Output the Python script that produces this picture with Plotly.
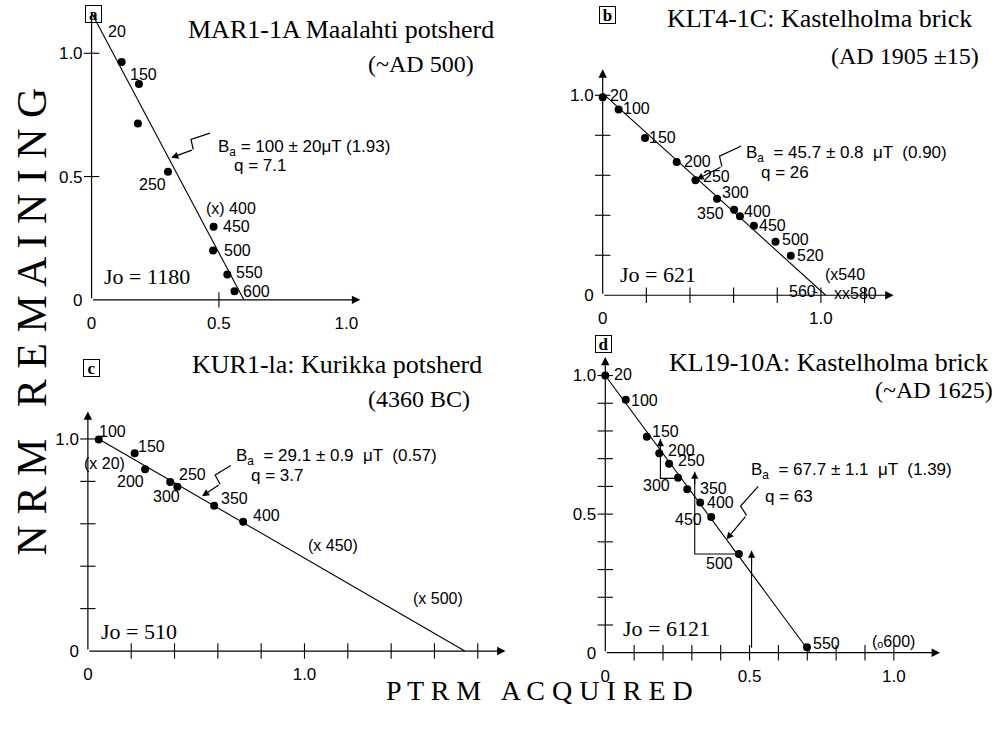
import plotly.graph_objects as go

W, H = 1000, 736
SANS = "Liberation Sans, Arial, Helvetica, sans-serif"
SERIF = "Liberation Serif, Times New Roman, serif"

# ---------------- data ----------------
# (a) MAR1-1A Maalahti potsherd
a_ptrm = [0.118, 0.186, 0.182, 0.300, 0.479, 0.477, 0.533, 0.561]
a_nrm = [0.965, 0.875, 0.715, 0.520, 0.296, 0.200, 0.103, 0.035]
a_temp = ["20", "150", "", "250", "450", "500", "550", "600"]
a_fit_ptrm = [0.0, 0.598]
a_fit_nrm = [1.164, 0.0]
a_notes = ["(x) 400"]
a_note_ptrm = [0.546]
a_note_nrm = [0.369]

# (b) KLT4-1C Kastelholma brick
b_ptrm = [0.0, 0.073, 0.194, 0.339, 0.425, 0.524, 0.602, 0.629, 0.693, 0.792, 0.862]
b_nrm = [0.990, 0.929, 0.786, 0.666, 0.575, 0.483, 0.427, 0.395, 0.348, 0.268, 0.197]
b_temp = ["20", "100", "150", "200", "250", "300", "350", "400", "450", "500", "520"]
b_fit_ptrm = [0.0, 1.022]
b_fit_nrm = [1.01, 0.0]
b_notes = ["(x540", "560", "xx580"]
b_note_ptrm = [1.109, 0.917, 1.160]
b_note_nrm = [0.105, 0.021, 0.011]

# (c) KUR1-1a Kurikka potsherd
c_ptrm = [0.050, 0.216, 0.264, 0.380, 0.413, 0.583, 0.717]
c_nrm = [0.997, 0.933, 0.857, 0.797, 0.775, 0.685, 0.609]
c_temp = ["100", "150", "200", "250", "300", "350", "400"]
c_fit_ptrm = [0.05, 1.74]
c_fit_nrm = [1.0, 0.0]
c_notes = ["(x 20)", "(x 450)", "(x 500)"]
c_note_ptrm = [0.077, 1.133, 1.615]
c_note_nrm = [0.884, 0.499, 0.248]

# (d) KL19-10A Kastelholma brick
d_ptrm = [0.0, 0.071, 0.144, 0.187, 0.221, 0.252, 0.284, 0.329, 0.367, 0.463, 0.699]
d_nrm = [1.0, 0.913, 0.779, 0.720, 0.682, 0.631, 0.590, 0.542, 0.490, 0.356, 0.020]
d_temp = ["20", "100", "150", "200", "250", "300", "350", "400", "450", "500", "550"]
d_fit_ptrm = [0.0, 0.71]
d_fit_nrm = [1.0, 0.0]
d_notes = ["(\u2092600)"]
d_note_ptrm = [0.999]
d_note_nrm = [0.042]
# pTRM checks (from step -> check value)
d_chk1_ptrm = [0.252, 0.191, 0.191]
d_chk1_nrm = [0.629, 0.629, 0.771]
d_chk2_ptrm = [0.463, 0.310, 0.310]
d_chk2_nrm = [0.356, 0.356, 0.653]
d_chk3_ptrm = [0.507, 0.507]
d_chk3_nrm = [0.018, 0.368]

titles = ["MAR1-1A Maalahti potsherd", "KLT4-1C: Kastelholma brick",
          "KUR1-la: Kurikka potsherd", "KL19-10A: Kastelholma brick"]
ages = ["(~AD 500)", "(AD 1905 \u00b115)", "(4360 BC)", "(~AD 1625)"]
letters = ["a", "b", "c", "d"]
jo_text = ["Jo = 1180", "Jo = 621", "Jo = 510", "Jo = 6121"]
ba_text = ["B<sub>a</sub> = 100 \u00b1 20\u03bcT (1.93)",
           "B<sub>a</sub>  = 45.7 \u00b1 0.8  \u03bcT  (0.90)",
           "B<sub>a</sub>  = 29.1 \u00b1 0.9  \u03bcT  (0.57)",
           "B<sub>a</sub>  = 67.7 \u00b1 1.1  \u03bcT  (1.39)"]
q_text = ["q = 7.1", "q = 26", "q = 3.7", "q = 63"]

# tick positions / labels
a_xticks, a_yticks = [0.5], [0.5, 1.0]
b_xticks, b_yticks = [0.2, 0.4, 0.6, 0.8, 1.0, 1.2], [0.2, 0.4, 0.6, 0.8, 1.0]
c_xticks, c_yticks = [0.2, 0.4, 0.6, 0.8, 1.0, 1.2, 1.4, 1.6, 1.8], [0.2, 0.4, 0.6, 0.8, 1.0]
d_xticks = [0.1, 0.2, 0.3, 0.4, 0.5, 0.6, 0.7, 0.8, 0.9, 1.0]
d_yticks = [0.1, 0.2, 0.3, 0.4, 0.5, 0.6, 0.7, 0.8, 0.9, 1.0]
a_xlab = [0, 0.5, 1.0]; a_ylab = [0, 0.5, 1.0]
b_xlab = [0, 1.0]; b_ylab = [0, 1.0]
c_xlab = [0, 1.0]; c_ylab = [0, 1.0]
d_xlab = [0, 0.5, 1.0]; d_ylab = [0, 0.5, 1.0]

# ---------------- styling / layout ----------------
# label offsets (px) for temperature labels
a_off = [(-5, -30), (5, -10), (0, 0), (-15, 13), (23, 0), (24, 0), (22, -2), (22, 0)]
b_off = [(16, -2), (18, -1), (17, -1), (21, -1), (21, -4), (18, -6), (-24, 4), (18, -5),
         (19, 0), (20, -2), (20, 0)]
c_off = [(14, -8), (17, -7), (-15, 12), (22, -8), (-11, 10), (20, -7), (23, -6)]
d_off = [(18, -1), (19, 1), (19, -5), (22, -3), (22, -3), (-21, 8), (26, -1), (20, 0),
         (-23, 3), (-19, 9), (20, -4)]

# panel geometry: origin px, px per unit, axis extents (data)
geo = [
    dict(ox=87, oy=304, ux=256, uy=250, xr=1.10, yr=1.17, xa=1.055, ya=1.164, yarrow=False),
    dict(ox=600.7, oy=299.3, ux=219.3, uy=202.7, xr=1.36, yr=1.15, xa=1.333, ya=1.13, yarrow=True),
    dict(ox=83.3, oy=660, ux=217.7, uy=215, xr=1.95, yr=1.15, xa=1.928, ya=1.13, yarrow=True),
    dict(ox=603.3, oy=661.7, ux=290, uy=281, xr=1.20, yr=1.10, xa=1.16, ya=1.067, yarrow=True),
]
title_pos = [(338, 30), (819, 19), (334, 370), (828, 367)]
age_pos = [(418, 65), (905, 57), (416, 405), (934, 395)]
box_pos = [(89, 14), (606, 15), (87, 373), (602, 349)]
jo_pos = [(143, 280), (656, 278), (135, 640), (665, 637)]
ba_pos = [(212, 150), (743, 156), (230, 463), (748, 477)]
q_pos = [(228, 168), (758, 175), (245, 482), (762, 503)]
bolt = [((206, 135), (167, 160)), ((740, 148), (695, 182)),
        ((227, 472), (198, 503)), ((757, 493), (725, 547))]


def P(px, py):
    return px / W, 1 - py / H


def note(px, py, text, font, **kw):
    x, y = P(px, py)
    d = dict(x=x, y=y, xref="paper", yref="paper", text=text, showarrow=False,
             xanchor="center", yanchor="middle", font=font)
    d.update(kw)
    return d


def spaced(word_list, gap, word_gap):
    return word_gap.join(gap.join(w) for w in word_list)


panels = [
    (a_ptrm, a_nrm, a_temp, a_off, a_fit_ptrm, a_fit_nrm, a_notes, a_note_ptrm, a_note_nrm,
     a_xticks, a_yticks, a_xlab, a_ylab),
    (b_ptrm, b_nrm, b_temp, b_off, b_fit_ptrm, b_fit_nrm, b_notes, b_note_ptrm, b_note_nrm,
     b_xticks, b_yticks, b_xlab, b_ylab),
    (c_ptrm, c_nrm, c_temp, c_off, c_fit_ptrm, c_fit_nrm, c_notes, c_note_ptrm, c_note_nrm,
     c_xticks, c_yticks, c_xlab, c_ylab),
    (d_ptrm, d_nrm, d_temp, d_off, d_fit_ptrm, d_fit_nrm, d_notes, d_note_ptrm, d_note_nrm,
     d_xticks, d_yticks, d_xlab, d_ylab),
]

fig = go.Figure()
annotations = []
shapes = []
layout = {}
LBL = dict(family=SANS, size=16, color="black")

for i, (px_, py_, temps, offs, fx, fy, notes, nx, ny, xt, yt, xl, yl) in enumerate(panels):
    g = geo[i]
    sfx = "" if i == 0 else str(i + 1)
    xref, yref = "x" + sfx, "y" + sfx
    xdom = [g["ox"] / W, (g["ox"] + g["ux"] * g["xr"]) / W]
    ydom = [1 - g["oy"] / H, 1 - (g["oy"] - g["uy"] * g["yr"]) / H]
    layout["xaxis" + sfx] = dict(domain=xdom, range=[0, g["xr"]], anchor=yref,
                                 showgrid=False, zeroline=False, showline=False,
                                 tickvals=xl, ticktext=["0" if v == 0 else f"{v:.1f}" for v in xl],
                                 ticks="", ticklabelstandoff=11,
                                 tickfont=dict(family=SANS, size=17, color="black"))
    layout["yaxis" + sfx] = dict(domain=ydom, range=[0, g["yr"]], anchor=xref,
                                 showgrid=False, zeroline=False, showline=False,
                                 tickvals=yl, ticktext=["0" if v == 0 else f"{v:.1f}" for v in yl],
                                 ticks="", ticklabelstandoff=8,
                                 tickfont=dict(family=SANS, size=17, color="black"))

    # fit line
    fig.add_trace(go.Scatter(x=fx, y=fy, mode="lines", xaxis=xref, yaxis=yref,
                             line=dict(color="black", width=1.1), hoverinfo="skip"))
    # tick crosses
    fig.add_trace(go.Scatter(x=xt, y=[0] * len(xt), mode="markers", xaxis=xref, yaxis=yref,
                             cliponaxis=False, hoverinfo="skip",
                             marker=dict(symbol="line-ns", size=11, line=dict(width=1.1, color="black"))))
    fig.add_trace(go.Scatter(x=[0] * len(yt), y=yt, mode="markers", xaxis=xref, yaxis=yref,
                             cliponaxis=False, hoverinfo="skip",
                             marker=dict(symbol="line-ew", size=11, line=dict(width=1.1, color="black"))))
    # data points
    fig.add_trace(go.Scatter(x=px_, y=py_, mode="markers", xaxis=xref, yaxis=yref,
                             cliponaxis=False,
                             marker=dict(color="black", size=8)))
    for xv, yv, t, (dx, dy) in zip(px_, py_, temps, offs):
        if t:
            annotations.append(dict(x=xv, y=yv, xref=xref, yref=yref, text=t, showarrow=False,
                                    xshift=dx, yshift=-dy, font=LBL))
    for t, xv, yv in zip(notes, nx, ny):
        annotations.append(dict(x=xv, y=yv, xref=xref, yref=yref, text=t, showarrow=False,
                                font=LBL))
    # axes with arrows
    annotations.append(dict(x=g["xa"], y=0, ax=0, ay=0, xref=xref, yref=yref, axref=xref,
                            ayref=yref, text="", showarrow=True, arrowhead=2, arrowsize=1.4,
                            arrowwidth=1.2, arrowcolor="black"))
    annotations.append(dict(x=0, y=g["ya"], ax=0, ay=0, xref=xref, yref=yref, axref=xref,
                            ayref=yref, text="", showarrow=True,
                            arrowhead=2 if g["yarrow"] else 0, arrowsize=1.4,
                            arrowwidth=1.2, arrowcolor="black"))

    # titles and texts
    annotations.append(note(*title_pos[i], titles[i], dict(family=SERIF, size=26, color="black")))
    annotations.append(note(*age_pos[i], ages[i], dict(family=SERIF, size=24, color="black")))
    annotations.append(note(*box_pos[i], "<b>%s</b>" % letters[i],
                            dict(family=SERIF, size=17, color="black"),
                            bordercolor="black", borderwidth=1, borderpad=0,
                            width=15, height=16))
    annotations.append(note(*jo_pos[i], jo_text[i], dict(family=SERIF, size=22, color="black")))
    annotations.append(note(*ba_pos[i], ba_text[i], dict(family=SANS, size=17, color="black"),
                            xanchor="left"))
    annotations.append(note(*q_pos[i], q_text[i], dict(family=SANS, size=17, color="black"),
                            xanchor="left"))
    # lightning arrow
    (sx, sy), (ex, ey) = bolt[i]
    dxv, dyv = ex - sx, ey - sy
    L = (dxv ** 2 + dyv ** 2) ** 0.5
    nxv, nyv = -dyv / L, dxv / L
    A = (sx + 0.42 * dxv + 5 * nxv, sy + 0.42 * dyv + 5 * nyv)
    B = (sx + 0.50 * dxv - 5 * nxv, sy + 0.50 * dyv - 5 * nyv)
    pts = [P(sx, sy), P(*A), P(*B)]
    path = "M %f %f L %f %f L %f %f" % (pts[0] + pts[1] + pts[2])
    shapes.append(dict(type="path", path=path, xref="paper", yref="paper",
                       line=dict(color="black", width=1.2)))
    exp_, eyp_ = P(ex, ey)
    annotations.append(dict(x=exp_, y=eyp_, xref="paper", yref="paper", text="",
                            showarrow=True, ax=B[0] - ex, ay=B[1] - ey, arrowhead=2,
                            arrowsize=1.2, arrowwidth=1.2, arrowcolor="black"))

# small pointer from "560" to its x mark in panel b
annotations.append(dict(x=0.985, y=0.012, xref="x2", yref="y2", ax=0.955, ay=0.02,
                        axref="x2", ayref="y2", text="", showarrow=True, arrowhead=0,
                        arrowwidth=1.0, arrowcolor="black"))

# pTRM checks in panel d
for cx, cy in [(d_chk1_ptrm, d_chk1_nrm), (d_chk2_ptrm, d_chk2_nrm), (d_chk3_ptrm, d_chk3_nrm)]:
    fig.add_trace(go.Scatter(x=cx, y=cy, mode="lines", xaxis="x4", yaxis="y4",
                             line=dict(color="black", width=1.1), hoverinfo="skip"))
    annotations.append(dict(x=cx[-1], y=cy[-1], xref="x4", yref="y4", text="",
                            showarrow=True, ax=0, ay=14, arrowhead=2, arrowsize=1.3,
                            arrowwidth=1.1, arrowcolor="black"))

# overall axis titles
annotations.append(note(27, 326, spaced(["NRM", "REMAINING"], " ", "   "),
                        dict(family=SERIF, size=42, color="black"), textangle=-90))
annotations.append(note(537, 700, spaced(["PTRM", "ACQUIRED"], " ", "   "),
                        dict(family=SERIF, size=28, color="black")))

fig.update_layout(width=W, height=H, margin=dict(l=0, r=0, t=0, b=0),
                  plot_bgcolor="white", paper_bgcolor="white", showlegend=False,
                  annotations=annotations, shapes=shapes, **layout)

fig.write_html("out.html", config={"displayModeBar": False})
